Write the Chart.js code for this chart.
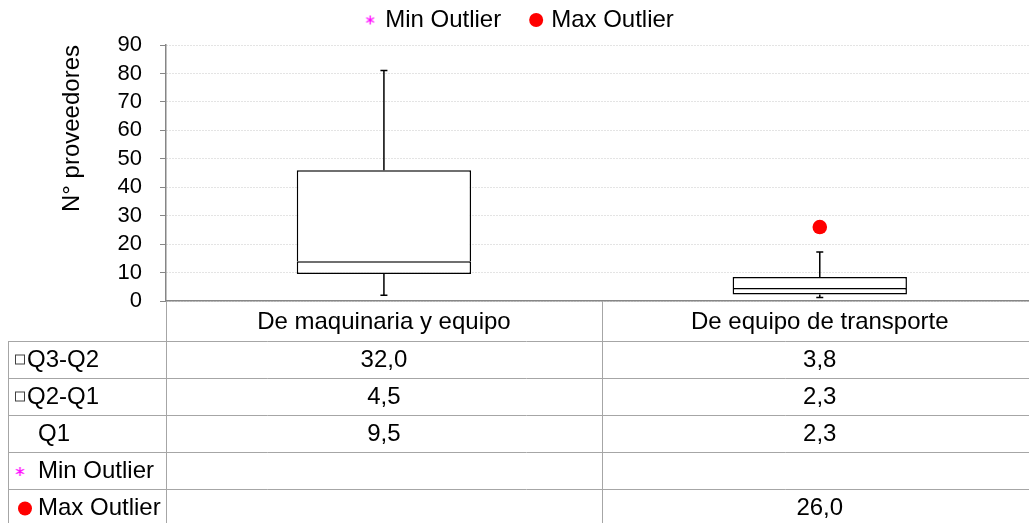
<!DOCTYPE html>
<html>
<head>
<meta charset="utf-8">
<script src="https://cdn.jsdelivr.net/npm/chart.js@4.4.0/dist/chart.umd.min.js"></script>
<style>
    html, body { margin: 0; padding: 0; background: #fff; overflow: hidden; }
    #wrap { width: 1045px; height: 523px; }
</style>
</head>
<body>
<div id="wrap"><canvas id="boxChart" width="1045" height="523"></canvas></div>
<script>
// datos del gráfico (cuartiles apilados)
const categories = ["De maquinaria y equipo", "De equipo de transporte"];
const q1 = [9.5, 2.3];
const q2q1 = [4.5, 2.3];
const q3q2 = [32.0, 3.8];
const whiskerMin = [2.0, 1.2];
const whiskerMax = [81.0, 17.2];
const minOutlier = [null, null];
const maxOutlier = [null, 26.0];
const yMin = 0, yMax = 90, yStep = 10;

const FONT = "'Liberation Sans', Arial, sans-serif";
const TEXT_SIZE = 24;
const LINE_GRAY = "#a6a6a6";

// marcador asterisco de Excel
function asteriskMarker(color) {
    const c = document.createElement("canvas");
    c.width = 11;
    c.height = 11;
    const g = c.getContext("2d");
    g.strokeStyle = color;
    g.lineWidth = 1.3;
    g.beginPath();
    g.moveTo(5.5, 1); g.lineTo(5.5, 10);
    g.moveTo(1.6, 3.2); g.lineTo(9.4, 7.8);
    g.moveTo(1.6, 7.8); g.lineTo(9.4, 3.2);
    g.stroke();
    return c;
}
const starImg = asteriskMarker("#ff00ff");

function fmt(v) {
    return v == null ? "" : v.toFixed(1).replace(".", ",");
}

function drawKey(ctx, ds, cx, cy) {
    Chart.helpers.drawPoint(ctx, {
        pointStyle: ds.pointStyle,
        radius: 7,
        borderWidth: 0,
        rotation: 0
    }, cx, cy);
}

// bigotes con sus topes
const boxWhiskers = {
    id: "boxWhiskers",
    afterDatasetsDraw(chart) {
        const { ctx, scales: { x, y } } = chart;
        ctx.save();
        ctx.strokeStyle = "#000";
        ctx.lineWidth = 1.5;
        categories.forEach((c, i) => {
            const px = x.getPixelForValue(i);
            const lo = q1[i];
            const hi = q1[i] + q2q1[i] + q3q2[i];
            [[lo, whiskerMin[i]], [hi, whiskerMax[i]]].forEach(([from, to]) => {
                const y0 = y.getPixelForValue(from);
                const y1 = y.getPixelForValue(to);
                ctx.beginPath();
                ctx.moveTo(px, y0);
                ctx.lineTo(px, y1);
                ctx.moveTo(px - 3.5, y1);
                ctx.lineTo(px + 3.5, y1);
                ctx.stroke();
            });
        });
        ctx.restore();
    }
};

// leyenda superior (solo los valores atípicos)
const topLegend = {
    id: "topLegend",
    afterDraw(chart) {
        const { ctx } = chart;
        const items = chart.data.datasets.filter((d) => d.type === "line");
        ctx.save();
        ctx.font = TEXT_SIZE + "px " + FONT;
        ctx.textBaseline = "middle";
        ctx.textAlign = "left";
        const gap = 30;
        const widths = items.map((d) => 20 + ctx.measureText(d.label).width);
        const total = widths.reduce((a, b) => a + b, 0) + gap * (items.length - 1);
        let lx = chart.width / 2 - total / 2 - 3;
        const cy = 20;
        items.forEach((d, i) => {
            ctx.fillStyle = d.backgroundColor;
            drawKey(ctx, d, lx + 5, cy);
            ctx.fillStyle = "#000";
            ctx.fillText(d.label, lx + 20, cy);
            lx += widths[i] + gap;
        });
        ctx.restore();
    }
};

// tabla de datos debajo del eje X
const dataTable = {
    id: "dataTable",
    afterDraw(chart) {
        const { ctx, chartArea, scales: { x } } = chart;
        const top = chartArea.bottom;
        const headerH = 40, rowH = 37;
        const left = 8;
        const right = chart.width;
        const half = (chartArea.right - chartArea.left) / categories.length / 2;
        const ds = chart.data.datasets;
        const rows = [
            { label: "Q3-Q2", values: q3q2, key: "box" },
            { label: "Q2-Q1", values: q2q1, key: "box" },
            { label: "Q1", values: q1, key: null },
            { label: "Min Outlier", values: minOutlier, key: ds[3], kx: 20 },
            { label: "Max Outlier", values: maxOutlier, key: ds[4], kx: 25 }
        ];
        const bottom = top + headerH + rowH * rows.length;

        ctx.save();
        ctx.strokeStyle = LINE_GRAY;
        ctx.lineWidth = 1;
        ctx.beginPath();
        // líneas horizontales
        for (let r = 0; r <= rows.length; r++) {
            const yy = Math.round(top + headerH + rowH * r) + 0.5;
            ctx.moveTo(left, yy);
            ctx.lineTo(right, yy);
        }
        // líneas verticales
        ctx.moveTo(left + 0.5, top + headerH);
        ctx.lineTo(left + 0.5, bottom);
        ctx.moveTo(Math.round(chartArea.left) + 0.5, top);
        ctx.lineTo(Math.round(chartArea.left) + 0.5, bottom);
        categories.forEach((c, i) => {
            const xr = Math.round(x.getPixelForValue(i) + half) + 0.5;
            ctx.moveTo(xr, top);
            ctx.lineTo(xr, bottom);
        });
        ctx.stroke();

        ctx.fillStyle = "#000";
        ctx.font = TEXT_SIZE + "px " + FONT;
        ctx.textBaseline = "middle";
        ctx.textAlign = "center";
        categories.forEach((c, i) => {
            ctx.fillText(c, x.getPixelForValue(i), top + headerH / 2 + 1);
        });

        rows.forEach((row, r) => {
            const cy = top + headerH + rowH * r + rowH / 2 + 1;
            ctx.textAlign = "left";
            let tx = 38;
            if (row.key === "box") {
                ctx.fillStyle = "#fff";
                ctx.strokeStyle = "#404040";
                ctx.fillRect(15.5, cy - 5.5, 9, 9);
                ctx.strokeRect(15.5, cy - 5.5, 9, 9);
                tx = 27;
            } else if (row.key) {
                ctx.fillStyle = row.key.backgroundColor;
                drawKey(ctx, row.key, row.kx, cy);
            }
            ctx.fillStyle = "#000";
            ctx.fillText(row.label, tx, cy);
            ctx.textAlign = "center";
            row.values.forEach((v, i) => {
                ctx.fillText(fmt(v), x.getPixelForValue(i), cy);
            });
        });
        ctx.restore();
    }
};

Chart.defaults.font.family = FONT;
Chart.defaults.font.size = 22;
Chart.defaults.color = "#000";

const boxStyle = {
    backgroundColor: "#ffffff",
    borderColor: "#000000",
    borderWidth: 1.5,
    stack: "box",
    categoryPercentage: 1,
    barPercentage: 0.4
};

new Chart(document.getElementById("boxChart").getContext("2d"), {
    type: "bar",
    data: {
        labels: categories,
        datasets: [
            {
                label: "Q1",
                data: q1,
                backgroundColor: "rgba(0,0,0,0)",
                borderWidth: 0,
                stack: "box",
                categoryPercentage: 1,
                barPercentage: 0.4
            },
            Object.assign({ label: "Q2-Q1", data: q2q1, borderSkipped: false }, boxStyle),
            Object.assign({ label: "Q3-Q2", data: q3q2, borderSkipped: "bottom" }, boxStyle),
            {
                type: "line",
                label: "Min Outlier",
                data: minOutlier,
                stack: "minOut",
                showLine: false,
                pointStyle: starImg,
                borderColor: "#ff00ff",
                backgroundColor: "#ff00ff"
            },
            {
                type: "line",
                label: "Max Outlier",
                data: maxOutlier,
                stack: "maxOut",
                showLine: false,
                pointStyle: "circle",
                pointRadius: 7.3,
                pointBorderWidth: 0,
                borderColor: "#ff0000",
                backgroundColor: "#ff0000"
            }
        ]
    },
    options: {
        responsive: false,
        animation: false,
        events: [],
        layout: { padding: { left: 0, right: 3, top: 45, bottom: 0 } },
        plugins: {
            tooltip: { enabled: false },
            legend: { display: false }
        },
        scales: {
            x: {
                stacked: true,
                ticks: { display: false },
                grid: { display: false, drawTicks: false },
                border: { color: "#868686", width: 1.5 },
                afterFit(scale) {
                    scale.height = 222;
                }
            },
            y: {
                stacked: true,
                min: yMin,
                max: yMax,
                ticks: {
                    stepSize: yStep,
                    autoSkip: false,
                    padding: 18,
                    color: "#000",
                    font: { size: 22 }
                },
                grid: {
                    color: "#c8c8c8",
                    tickColor: "#868686",
                    tickLength: 6,
                    tickBorderDash: [],
                    lineWidth: 1
                },
                border: { color: "#868686", width: 1.5, dash: [1, 2] },
                title: {
                    display: true,
                    text: "N° proveedores",
                    align: "end",
                    color: "#000",
                    font: { size: TEXT_SIZE },
                    padding: { top: 58, bottom: 0 }
                },
                afterFit(scale) {
                    scale.width = 166;
                }
            }
        }
    },
    plugins: [boxWhiskers, topLegend, dataTable]
});
</script>
</body>
</html>
